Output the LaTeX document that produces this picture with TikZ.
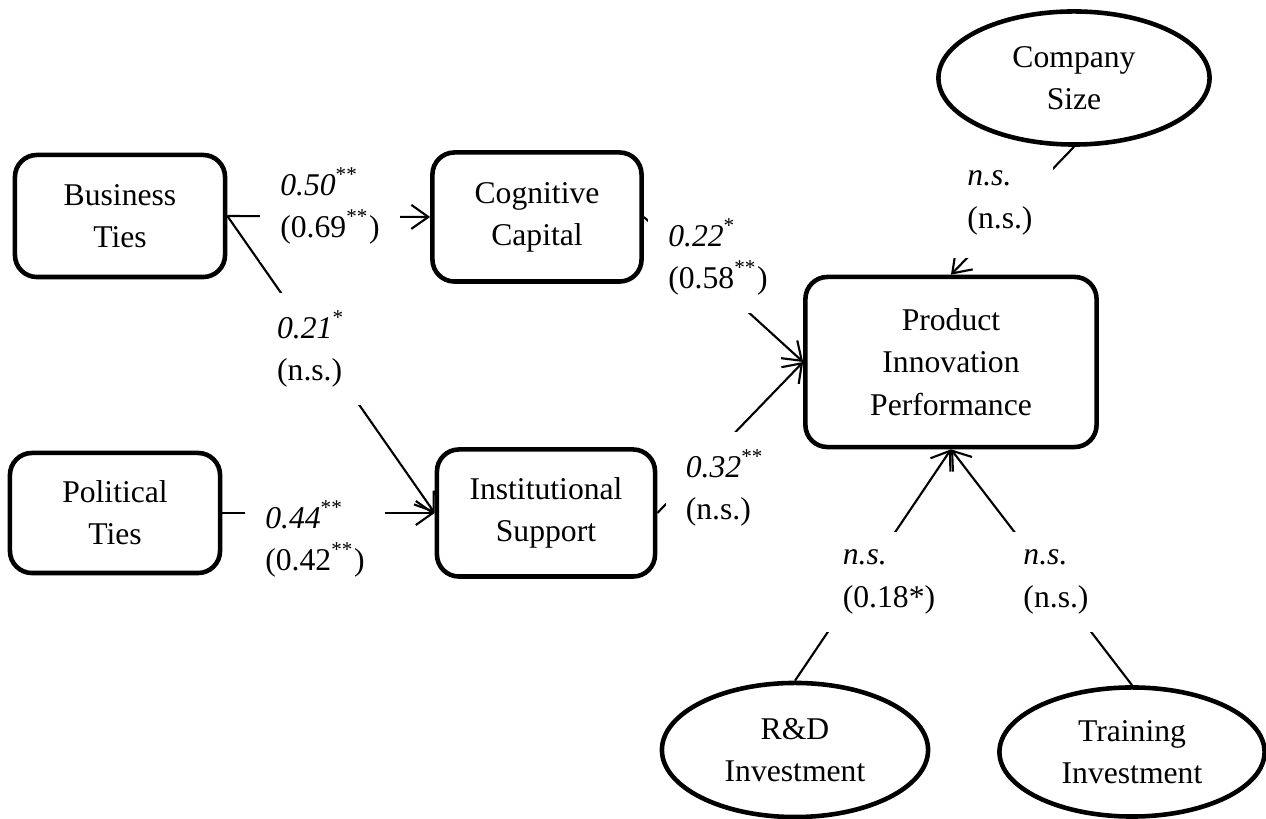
\documentclass[tikz,border=0pt]{standalone}
\usepackage{fontspec}
\setmainfont{Liberation Serif}
\usepackage{tikz}
\usetikzlibrary{shapes.geometric, arrows.meta}
\tikzset{
  box/.style={rectangle, draw, line width=1.3pt, rounded corners=0.22cm,
    align=center, inner sep=0pt},
  oval/.style={ellipse, draw, line width=1.3pt, align=center, inner sep=0pt},
  coef/.style={fill=white, align=left, inner xsep=0.2cm, inner ysep=0.18cm},
  link/.style={-{Straight Barb[length=0.17cm, width=0.24cm]}, line width=0.6pt}
}

\begin{document}
\begin{tikzpicture}[x=0.01cm, y=-0.01cm, every node/.style={font=\fontsize{9}{12}\selectfont}]
  \useasboundingbox (0,0) rectangle (1266,819);

  % Network ties
  \node[box, minimum width=2.1cm, minimum height=1.22cm] (bus) at (120, 216) {Business\\Ties};
  \node[box, minimum width=2.1cm, minimum height=1.2cm] (pol) at (115, 513) {Political\\Ties};

  % Mediators
  \node[box, minimum width=2.09cm, minimum height=1.29cm] (cog) at (537, 217) {Cognitive\\Capital};
  \node[box, minimum width=2.18cm, minimum height=1.27cm] (inst) at (546, 513) {Institutional\\Support};

  % Outcome
  \node[box, minimum width=2.91cm, minimum height=1.7cm] (prod) at (951, 362) {Product\\Innovation\\Performance};

  % Controls
  \node[oval, minimum width=2.71cm, minimum height=1.33cm] (size) at (1074, 78) {Company\\Size};
  \node[oval, minimum width=2.66cm, minimum height=1.34cm] (rd) at (795, 750) {R\&D\\Investment};
  \node[oval, minimum width=2.65cm, minimum height=1.29cm] (train) at (1132, 752) {Training\\Investment};

  % Paths
  \draw[link] (bus.east) -- (cog.west);
  \draw[link] (bus.east) -- (inst.west);
  \draw[link] (pol.east) -- (inst.west);
  \draw[link] (cog.east) -- (prod.west);
  \draw[link] (inst.east) -- (prod.west);
  \draw[link] (size.south) -- (prod.north);
  \draw[link] (rd.north) -- (prod.south);
  \draw[link] (train.north) -- (prod.south);

  % Coefficients
  \node[coef] (c1) at (330, 206) {\textit{0.50}\textsuperscript{**}\\(0.69\textsuperscript{**})};
  \node[coef] (c2) at (311, 349) {\textit{0.21}\textsuperscript{*}\\(n.s.)};
  \node[coef] (c3) at (315, 539) {\textit{0.44}\textsuperscript{**}\\(0.42\textsuperscript{**})};
  \node[coef] (c4) at (718, 257) {\textit{0.22}\textsuperscript{*}\\(0.58\textsuperscript{**})};
  \node[coef] (c5) at (725, 488) {\textit{0.32}\textsuperscript{**}\\(n.s.)};
  \node[coef, inner ysep=0.23cm] (c6) at (1000, 203) {\textit{n.s.}\\(n.s.)};
  \node[coef] (c7) at (889, 582) {\textit{n.s.}\\(0.18*)};
  \node[coef] (c8) at (1056, 582) {\textit{n.s.}\\(n.s.)};
\end{tikzpicture}
\end{document}
